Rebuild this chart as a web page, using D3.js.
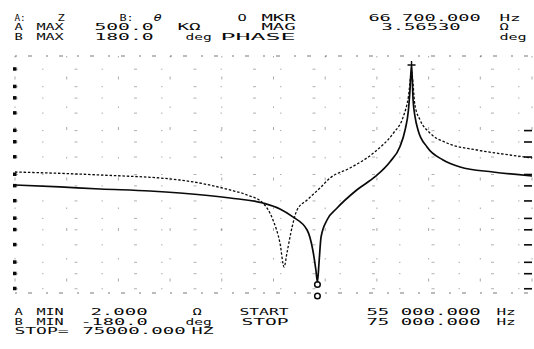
<!DOCTYPE html>
<html>
<head>
<meta charset="utf-8">
<script src="https://cdn.jsdelivr.net/npm/d3@7"></script>
<style>
  html, body { margin: 0; padding: 0; background: #fff; }
  svg { display: block; }
</style>
</head>
<body>
<svg id="chart" width="534" height="349"></svg>
<script>
// Sweep and display settings
const startKHz = 55, stopKHz = 75;
const aMin = 2, aMax = 500000;          // |Z| scale, ohms (log)
const bMin = -180, bMax = 180;          // phase scale, degrees
const markerKHz = 66.7, markerMag = 3.56530;

// |Z| trace (solid): frequency in kHz, magnitude in ohms
const freqA = [55.00, 56.74, 58.29, 60.22, 61.38, 63.32, 64.59, 65.25, 65.75, 66.30,
               66.52, 66.64, 66.70, 66.76, 66.84, 67.07, 67.45, 68.22, 68.93, 69.51,
               69.89, 70.09, 70.22, 70.28, 70.34, 70.40, 70.48, 70.59, 70.94, 71.56,
               72.22, 73.49, 75.00];
const magA  = [577, 520, 468, 421, 379, 292, 224, 164, 108, 54.5,
               19.1, 6.68, 3.5653, 9.65, 37.7, 92, 170, 444, 892, 1959,
               4300, 10300, 29500, 84100, 312000, 49800, 20000, 10300, 4232, 2141,
               1483, 1141, 925];

// second |Z| trace (dotted)
const freqB = [55.00, 58.29, 61.38, 63.32, 63.98, 64.59, 64.98, 65.25, 65.41, 65.52,
               65.72, 65.91, 66.30, 66.80, 67.19, 67.96, 68.93, 69.63, 70.02, 70.22,
               70.34, 70.47, 70.67, 71.05, 71.71, 72.87, 74.15, 75.00];
const magB  = [1141, 975, 750, 444, 341, 224, 92, 27.5, 7.82, 16.3,
               63.7, 155.5, 263, 493, 833, 1407, 3311, 8690, 20750, 59300,
               216000, 38300, 17460, 8830, 5224, 3614, 2782, 2377];

// graticule: vertical lines every 2 kHz, horizontal marks per decade
const freqGrid = d3.range(startKHz, stopKHz + 0.001, 2);
const decades = [10, 100, 1000, 10000, 100000, 1000000];
const decadeSteps = [1, 0.55, 0.25];

const svg = d3.select("#chart");
const plot = { left: 15, right: 532, top: 56, bottom: 293 };

const x = d3.scaleLinear().domain([startKHz, stopKHz]).range([plot.left, plot.right]);
const y = d3.scaleLog().domain([aMin, aMax]).range([plot.bottom, plot.top]);

const ink = "#0a0a0a";

// ---- graticule ----
const grid = svg.append("g").attr("stroke", ink).attr("fill", "none");
grid.selectAll("line.v").data(freqGrid).join("line")
  .attr("class", "v")
  .attr("x1", d => x(d)).attr("x2", d => x(d))
  .attr("y1", plot.top).attr("y2", plot.bottom)
  .attr("stroke-width", 1)
  .attr("stroke-dasharray", "1.5,19,3,27")
  .attr("opacity", 0.35);

const hMarks = [];
decades.forEach(dv => decadeSteps.forEach(s => {
  const v = dv * s;
  if (v >= aMin && v <= aMax) hMarks.push(v);
}));
grid.selectAll("line.h").data(hMarks).join("line")
  .attr("class", "h")
  .attr("x1", plot.left).attr("x2", plot.right)
  .attr("y1", d => y(d)).attr("y2", d => y(d))
  .attr("stroke-width", 1)
  .attr("stroke-dasharray", "3,24,1.5,31")
  .attr("opacity", 0.32);

// top and bottom edges of the display
grid.selectAll("line.edge").data([plot.top, plot.bottom]).join("line")
  .attr("class", "edge")
  .attr("x1", plot.left).attr("x2", plot.right)
  .attr("y1", d => d).attr("y2", d => d)
  .attr("stroke-width", 1)
  .attr("stroke-dasharray", "2,11,4,14")
  .attr("opacity", 0.55);

// scale marks along the left and right edges
const marks = svg.append("g").attr("fill", ink);
marks.selectAll("rect.l").data(hMarks).join("rect")
  .attr("class", "l")
  .attr("x", plot.left - 2).attr("y", d => y(d) - 2)
  .attr("width", 3.5).attr("height", 3.5);
marks.selectAll("rect.r").data(hMarks.filter(v => v < 20000)).join("rect")
  .attr("class", "r")
  .attr("x", plot.right - 8).attr("y", d => y(d) - 0.8)
  .attr("width", 8).attr("height", 1.6);

// ---- traces ----
const lineGen = d3.line().curve(d3.curveMonotoneX);

svg.append("path")
  .attr("d", lineGen(freqB.map((f, i) => [x(f), y(magB[i])])))
  .attr("fill", "none")
  .attr("stroke", ink)
  .attr("stroke-width", 1.3)
  .attr("stroke-dasharray", "2.5,1.8");

svg.append("path")
  .attr("d", lineGen(freqA.map((f, i) => [x(f), y(magA[i])])))
  .attr("fill", "none")
  .attr("stroke", ink)
  .attr("stroke-width", 1.7);

// peak marker (+) on the |Z| trace
const iPeak = d3.maxIndex(magA);
const px = x(freqA[iPeak]), py = y(magA[iPeak]);
svg.append("path")
  .attr("d", `M${px - 4},${py}H${px + 4}M${px},${py - 4}V${py + 9}`)
  .attr("stroke", ink).attr("stroke-width", 1.4).attr("fill", "none");

// marker (o) at the marker frequency
const mx = x(markerKHz), my = y(markerMag);
svg.append("circle").attr("cx", mx).attr("cy", my + 2.5).attr("r", 2.8)
  .attr("fill", "none").attr("stroke", ink).attr("stroke-width", 1.5);
svg.append("circle").attr("cx", mx).attr("cy", plot.bottom + 3).attr("r", 2.8)
  .attr("fill", "none").attr("stroke", ink).attr("stroke-width", 1.5);

// ---- annotation text ----
const spaced = v => d3.format(",.3f")(v).replace(/,/g, " ");
const mkrLabel   = spaced(markerKHz * 1000);
const magLabel   = d3.format(".5f")(markerMag);
const aMaxLabel  = d3.format(".1f")(aMax / 1000);
const aMinLabel  = d3.format(".3f")(aMin);
const bMaxLabel  = d3.format(".1f")(bMax);
const bMinLabel  = d3.format(".1f")(bMin).replace("−", "-");
const startLabel = spaced(startKHz * 1000);
const stopLabel  = spaced(stopKHz * 1000);
const stopPlain  = d3.format(".3f")(stopKHz * 1000);

// [text, left x, ink width, baseline, italic]
const textRows = [
  ["A:", 15, 10, 20.5], ["Z", 58, 6, 20.5], ["B:", 120, 13, 20.5], ["θ", 154, 7, 20.5, true],
  ["O", 238, 8, 20.5], ["MKR", 262, 33, 20.5], [mkrLabel, 369, 111, 20.5], ["Hz", 500, 20, 20.5],

  ["A", 15, 7, 30], ["MAX", 37, 26, 30], [aMaxLabel, 95, 58, 30], ["KΩ", 178, 22, 30],
  ["MAG", 262, 33, 30], [magLabel, 382, 78, 30], ["Ω", 500, 8, 30],

  ["B", 15, 7, 39.5], ["MAX", 37, 26, 39.5], [bMaxLabel, 95, 58, 39.5], ["deg", 186, 25, 39.5],
  ["PHASE", 221, 74, 39.5], ["deg", 500, 26, 39.5],

  ["A", 15, 7, 315], ["MIN", 37, 26, 315], [aMinLabel, 91, 56, 315], ["Ω", 193, 8, 315],
  ["START", 240, 48, 315], [startLabel, 367, 113, 315], ["Hz", 497, 18, 315],

  ["B", 15, 7, 324.5], ["MIN", 37, 26, 324.5], [bMinLabel, 81, 66, 324.5], ["deg", 186, 25, 324.5],
  ["STOP", 242, 46, 324.5], [stopLabel, 367, 113, 324.5], ["Hz", 497, 18, 324.5],

  ["STOP=", 15, 53, 334], [stopPlain, 83, 102, 334], ["HZ", 192, 21, 334]
];

svg.append("g")
  .attr("font-family", "'DejaVu Sans Mono', monospace")
  .attr("font-size", 9.5)
  .attr("fill", ink)
  .selectAll("text").data(textRows).join("text")
  .attr("x", d => d[1] - 0.6)
  .attr("y", d => d[3])
  .attr("font-style", d => d[4] ? "italic" : null)
  .attr("textLength", d => d[2] + 1.3)
  .attr("lengthAdjust", "spacingAndGlyphs")
  .text(d => d[0]);
</script>
</body>
</html>
